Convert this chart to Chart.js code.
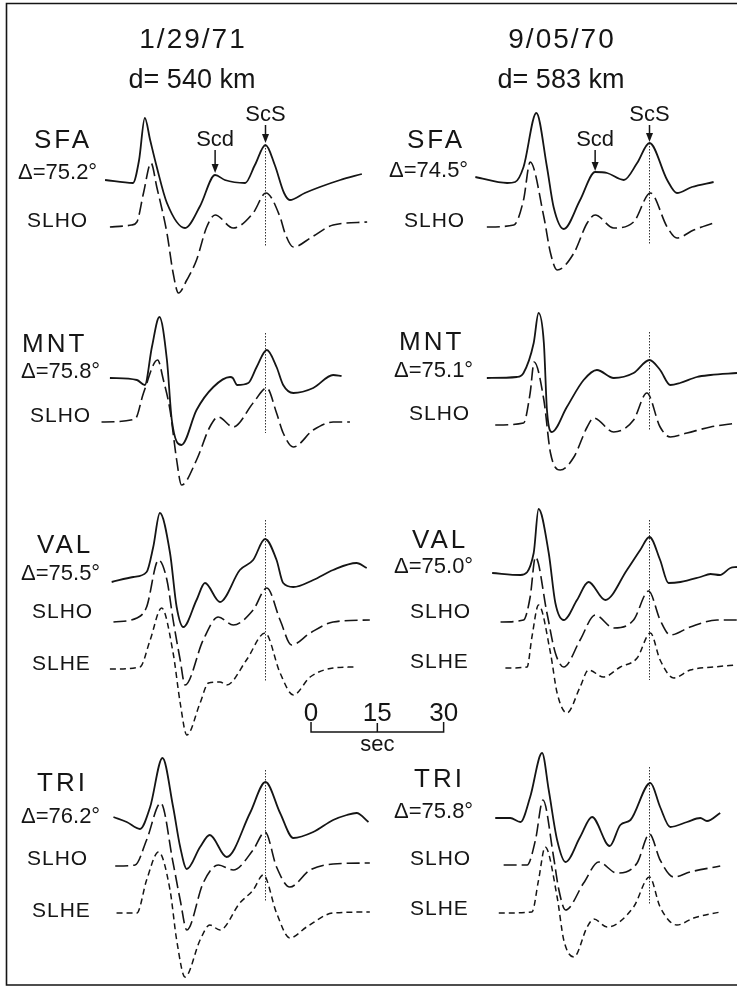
<!DOCTYPE html>
<html>
<head>
<meta charset="utf-8">
<script src="https://cdn.jsdelivr.net/npm/chart.js@4/dist/chart.umd.min.js"></script>
<style>
  html, body { margin: 0; padding: 0; background: #fff; }
  canvas { display: block; }
</style>
</head>
<body>
<canvas id="seis" width="737" height="988"></canvas>
<script>
// time in seconds relative to ScS, amplitude in figure units (up = positive)

// 1/29/71 event
const sfaL = [[-36.3,0],[-30.0,-3],[-28.6,20],[-27.3,62],[-26.1,40],[-24.6,13],[-22.3,-23],[-18.2,-48],[-14.8,-26],[-11.4,5],[-9.2,0],[-4.6,-3],[-2.4,15],[0,35],[2.1,15],[4.2,-13],[5.5,-20],[8.9,-13],[12.3,-7],[16.9,0],[21.8,6]];
const sfaLslho = [[-35.2,-1],[-30.3,1],[-29.1,4],[-27.6,33],[-25.9,63],[-24.6,39],[-22.3,-7],[-20.9,-47],[-19.7,-67],[-17.8,-54],[-15.6,-34],[-13.3,-1],[-11.4,11],[-7.3,-2],[-2.8,13],[0.1,33],[3.3,9],[4.4,-7],[6.3,-21],[10.5,-11],[15.3,1],[23.0,4]];
const mntL = [[-35.2,1],[-29.1,-1],[-27.3,-6],[-25.7,32],[-24.0,62],[-22.3,19],[-21.2,-41],[-19.0,-66],[-15.6,-31],[-11.8,-8],[-8.0,2],[-7.4,1],[-6.4,-6],[-3.9,-4],[-2.0,12],[0.3,29],[2.5,12],[4.0,-6],[6.3,-14],[10.8,-9],[15.3,4],[17.2,3]];
const mntLslho = [[-37.1,-2],[-29.5,1],[-27.6,27],[-24.4,60],[-23.1,40],[-21.6,10],[-20.1,-40],[-19.0,-65],[-15.6,-40],[-12.6,-7],[-10.7,3],[-7.3,-7],[-2.8,17],[0.3,32],[2.5,7],[4.0,-13],[6.3,-27],[10.8,-10],[15.3,-2],[19.1,-2]];
const valL = [[-34.8,-2],[-29.9,3],[-26.9,8],[-25.4,33],[-23.9,67],[-21.6,27],[-20.1,-27],[-18.6,-47],[-15.6,-20],[-13.7,-3],[-10.3,-22],[-5.8,10],[-2.8,20],[-0.1,41],[2.5,20],[4.0,-3],[6.3,-7],[10.8,0],[15.3,10],[20.6,17],[22.9,12]];
const valLslho = [[-34.4,-2],[-29.1,2],[-26.9,13],[-24.2,60],[-22.3,40],[-20.9,0],[-19.3,-40],[-18.2,-65],[-14.1,-20],[-10.7,3],[-7.3,-5],[-2.8,10],[0.3,32],[3.3,0],[5.9,-25],[10.1,-13],[15.3,-2],[23.6,0]];
const valLslhe = [[-35.2,-1],[-28.4,1],[-26.1,28],[-23.5,60],[-20.9,15],[-19.3,-35],[-17.8,-67],[-14.8,-35],[-12.9,-15],[-10.3,-14],[-8.8,-17],[-4.3,8],[-0.1,35],[3.3,-5],[6.3,-27],[10.1,-9],[15.3,0],[19.9,1]];
const triL = [[-34.4,0],[-31.4,-5],[-28.4,-12],[-26.1,10],[-23.3,59],[-20.9,10],[-19.3,-30],[-17.8,-52],[-14.8,-30],[-12.6,-18],[-8.8,-40],[-3.5,4],[0.0,35],[3.3,4],[6.3,-21],[10.8,-15],[15.3,-3],[18.4,2],[20.6,4],[23.3,-5]];
const triLslho = [[-34.0,-1],[-29.5,0],[-26.9,25],[-23.7,62],[-20.9,2],[-19.3,-35],[-17.8,-65],[-14.1,-18],[-10.7,0],[-7.3,-5],[-2.8,15],[-0.1,33],[2.5,-2],[5.5,-22],[10.1,-5],[15.3,1],[23.6,2]];
const triLslhe = [[-33.7,0],[-29.1,0],[-26.9,33],[-24.2,61],[-21.6,23],[-20.1,-27],[-18.2,-64],[-14.8,-27],[-12.6,-12],[-10.3,-17],[-5.8,10],[-2.8,23],[-0.5,38],[2.5,0],[5.5,-25],[9.3,-14],[15.3,0],[23.6,1]];

// 9/05/70 event
const sfaR = [[-39.4,1],[-32.2,-5],[-30.4,-4],[-28.5,11],[-25.6,65],[-23.2,11],[-21.7,-29],[-19.4,-51],[-15.7,-22],[-12.3,6],[-9.6,5],[-5.8,-2],[-2.8,15],[0,35],[4.0,-2],[6.2,-15],[9.6,-9],[14.5,-4]];
const sfaRslho = [[-36.8,-1],[-30.7,1],[-28.5,26],[-27.0,64],[-23.9,9],[-22.4,-27],[-20.9,-44],[-17.1,-27],[-14.1,3],[-12.3,11],[-8.1,-2],[-3.6,4],[0.2,33],[4.0,-1],[6.2,-12],[10.0,-4],[14.5,3]];
const mntR = [[-36.8,-1],[-30.0,0],[-28.5,4],[-26.2,34],[-25.1,64],[-23.9,34],[-23.2,-33],[-22.1,-55],[-18.7,-30],[-14.9,-3],[-11.9,7],[-8.1,-1],[-3.6,4],[0.0,17],[2.4,7],[4.7,-8],[6.9,-6],[10.7,0],[13.8,2],[19.8,4]];
const mntRslho = [[-34.9,-1],[-28.5,1],[-27.0,31],[-26.1,62],[-23.9,24],[-22.4,-29],[-20.2,-46],[-17.1,-33],[-14.1,-3],[-12.6,6],[-8.1,-8],[-3.6,4],[-0.6,31],[2.4,-3],[4.7,-13],[8.5,-9],[13.8,-3],[19.8,1]];
const valR = [[-35.6,1],[-29.2,-1],[-26.2,21],[-25.1,65],[-22.8,21],[-21.3,-29],[-19.4,-46],[-16.4,-26],[-13.8,-8],[-10.0,-26],[-5.1,4],[-2.1,24],[0.0,37],[2.4,14],[4.3,-9],[7.0,-8],[11.5,-3],[13.8,0],[15.9,-1],[18.3,6],[19.8,7]];
const valRslho = [[-33.7,-2],[-28.5,0],[-27.0,23],[-25.8,63],[-23.2,7],[-21.3,-33],[-19.4,-47],[-15.7,-20],[-12.3,5],[-8.1,-8],[-3.6,0],[-0.2,29],[2.4,0],[4.7,-15],[9.2,-7],[15.3,0],[19.8,0]];
const valRslhe = [[-32.6,-1],[-27.7,0],[-26.6,30],[-25.1,62],[-22.4,14],[-20.9,-26],[-18.7,-46],[-15.7,-20],[-13.8,-3],[-10.4,-10],[-6.6,0],[-2.8,9],[0.2,34],[2.4,7],[5.5,-11],[9.2,-3],[14.5,0],[19.8,2]];
const triR = [[-34.9,0],[-31.5,0],[-29.2,-4],[-27.0,21],[-24.3,65],[-22.8,28],[-20.9,-22],[-19.0,-44],[-15.7,-19],[-13.0,1],[-9.0,-28],[-6.6,-7],[-4.3,-2],[0.2,35],[2.4,11],[4.7,-9],[8.5,-4],[11.5,0],[13.0,-3],[16.0,5]];
const triRslho = [[-33.0,0],[-27.7,0],[-25.8,25],[-24.1,65],[-21.7,8],[-20.5,-25],[-19.0,-45],[-14.9,-18],[-11.5,3],[-7.4,-8],[-2.8,2],[0.0,31],[2.4,5],[5.5,-12],[9.2,-7],[16.0,-1]];
const triRslhe = [[-34.1,0],[-26.6,1],[-25.1,33],[-23.6,66],[-20.9,16],[-19.4,-27],[-17.1,-44],[-14.1,-14],[-12.6,-6],[-9.6,-14],[-3.6,6],[0.0,36],[2.4,6],[6.2,-12],[10.0,-5],[16.0,1]];

// phase times (s, relative to ScS)
const scdTimeL = -11.4;
const scdTimeR = -12.3;
const scaleTicks = [0, 15, 30];

const events = ["1/29/71", "9/05/70"];
const depths = ["d= 540 km", "d= 583 km"];
const stationsL = ["SFA", "MNT", "VAL", "TRI"];
const stationsR = ["SFA", "MNT", "VAL", "TRI"];
const distL = ["\u0394=75.2\u00b0", "\u0394=75.8\u00b0", "\u0394=75.5\u00b0", "\u0394=76.2\u00b0"];
const distR = ["\u0394=74.5\u00b0", "\u0394=75.1\u00b0", "\u0394=75.0\u00b0", "\u0394=75.8\u00b0"];

// ---- layout (pixels) ----
const W = 737, H = 988;
const PX_PER_SEC = 4.42;
const SCS_X = { xL: 265.5, xR: 649.5 };
const INK = "#151515";
const FONT = '"Liberation Sans", Arial, sans-serif';

const STYLE = {
  solid: { width: 1.8, dash: [] },
  slho:  { width: 1.6, dash: [13, 5] },
  slhe:  { width: 1.5, dash: [6, 4] }
};

// [data, baseline px, axis, style]
const TRACES = [
  [sfaL, 180, "xL", "solid"], [sfaLslho, 226, "xL", "slho"],
  [mntL, 379, "xL", "solid"], [mntLslho, 420, "xL", "slho"],
  [valL, 580, "xL", "solid"], [valLslho, 620, "xL", "slho"], [valLslhe, 668, "xL", "slhe"],
  [triL, 817, "xL", "solid"], [triLslho, 865, "xL", "slho"], [triLslhe, 913, "xL", "slhe"],
  [sfaR, 178, "xR", "solid"], [sfaRslho, 226, "xR", "slho"],
  [mntR, 377, "xR", "solid"], [mntRslho, 424, "xR", "slho"],
  [valR, 574, "xR", "solid"], [valRslho, 620, "xR", "slho"], [valRslhe, 667, "xR", "slhe"],
  [triR, 818, "xR", "solid"], [triRslho, 865, "xR", "slho"], [triRslhe, 913, "xR", "slhe"]
];

// ScS dotted markers: [axis, top px, bottom px]
const MARKERS = [
  ["xL", 145, 247], ["xL", 333, 433], ["xL", 520, 682], ["xL", 770, 902],
  ["xR", 143, 245], ["xR", 332, 430], ["xR", 520, 680], ["xR", 767, 905]
];

const SCALE_ORIGIN = 10.3; // seconds on xL where the bar starts
const SCALE_Y = 732, SCALE_TICK_TOP = 722;

function axisRange(axis) {
  return { min: -SCS_X[axis] / PX_PER_SEC, max: (W - SCS_X[axis]) / PX_PER_SEC };
}

const datasets = [];
TRACES.forEach(([pts, base, axis, st]) => {
  datasets.push({
    data: pts.map(([t, a]) => ({ x: t, y: -base + a })),
    xAxisID: axis, yAxisID: "y",
    showLine: true, fill: false,
    borderColor: INK, borderWidth: STYLE[st].width, borderDash: STYLE[st].dash,
    cubicInterpolationMode: "monotone",
    pointRadius: 0
  });
});
MARKERS.forEach(([axis, top, bot]) => {
  datasets.push({
    data: [{ x: 0, y: -top }, { x: 0, y: -bot }],
    xAxisID: axis, yAxisID: "y",
    showLine: true, borderColor: "#333", borderWidth: 1, borderDash: [1.5, 1.5],
    pointRadius: 0
  });
});
// time scale bar
const last = scaleTicks[scaleTicks.length - 1];
datasets.push({
  data: [
    { x: SCALE_ORIGIN, y: -SCALE_TICK_TOP }, { x: SCALE_ORIGIN, y: -SCALE_Y },
    { x: SCALE_ORIGIN + last, y: -SCALE_Y }, { x: SCALE_ORIGIN + last, y: -SCALE_TICK_TOP }
  ],
  xAxisID: "xL", yAxisID: "y", showLine: true, borderColor: INK, borderWidth: 1.5, pointRadius: 0
});
scaleTicks.slice(1, -1).forEach(s => {
  datasets.push({
    data: [{ x: SCALE_ORIGIN + s, y: -SCALE_Y }, { x: SCALE_ORIGIN + s, y: -SCALE_TICK_TOP - 1 }],
    xAxisID: "xL", yAxisID: "y", showLine: true, borderColor: INK, borderWidth: 1.5, pointRadius: 0
  });
});

// text: [text, x, baseline y, size, align, letterSpacing]
const LABELS = [
  [events[0], 192, 48, 28, "center", 2], [depths[0], 192, 88, 27, "center", 0],
  [events[1], 561, 48, 28, "center", 2], [depths[1], 561, 88, 27, "center", 0],

  [stationsL[0], 34, 148, 26, "left", 3], [distL[0], 18, 179, 22, "left", 0], ["SLHO", 27, 227, 21, "left", 1],
  [stationsL[1], 22, 352, 26, "left", 3], [distL[1], 21, 378, 22, "left", 0], ["SLHO", 30, 422, 21, "left", 1],
  [stationsL[2], 37, 553, 26, "left", 3], [distL[2], 21, 580, 22, "left", 0], ["SLHO", 32, 618, 21, "left", 1], ["SLHE", 32, 670, 21, "left", 1],
  [stationsL[3], 37, 791, 26, "left", 3], [distL[3], 21, 823, 22, "left", 0], ["SLHO", 27, 865, 21, "left", 1], ["SLHE", 32, 917, 21, "left", 1],

  [stationsR[0], 407, 148, 26, "left", 3], [distR[0], 389, 177, 22, "left", 0], ["SLHO", 404, 227, 21, "left", 1],
  [stationsR[1], 399, 350, 26, "left", 3], [distR[1], 394, 377, 22, "left", 0], ["SLHO", 409, 420, 21, "left", 1],
  [stationsR[2], 412, 548, 26, "left", 3], [distR[2], 394, 573, 22, "left", 0], ["SLHO", 410, 618, 21, "left", 1], ["SLHE", 410, 668, 21, "left", 1],
  [stationsR[3], 414, 787, 26, "left", 3], [distR[3], 394, 818, 22, "left", 0], ["SLHO", 410, 865, 21, "left", 1], ["SLHE", 410, 915, 21, "left", 1]
];

// phase arrows: [axis, time, label, label baseline, arrow top, arrow tip]
const ARROWS = [
  ["xL", scdTimeL, "Scd", 146, 150, 173], ["xL", 0, "ScS", 121, 125, 143],
  ["xR", scdTimeR, "Scd", 146, 150, 171], ["xR", 0, "ScS", 121, 125, 142]
];

const figurePlugin = {
  id: "figure",
  afterDatasetsDraw(chart) {
    const ctx = chart.ctx;
    ctx.save();
    ctx.fillStyle = INK;
    ctx.strokeStyle = INK;
    ctx.textBaseline = "alphabetic";

    LABELS.forEach(([txt, x, y, size, align, sp]) => {
      ctx.font = size + "px " + FONT;
      ctx.letterSpacing = sp + "px";
      ctx.textAlign = align;
      ctx.fillText(txt, x + (align === "center" ? sp / 2 : 0), y);
    });
    ctx.letterSpacing = "0px";

    ARROWS.forEach(([axis, t, txt, ly, top, tip]) => {
      const x = chart.scales[axis].getPixelForValue(t);
      ctx.font = "22px " + FONT;
      ctx.textAlign = "center";
      ctx.fillText(txt, x, ly);
      ctx.lineWidth = 1.5;
      ctx.beginPath();
      ctx.moveTo(x, top);
      ctx.lineTo(x, tip - 5);
      ctx.stroke();
      ctx.beginPath();
      ctx.moveTo(x - 3.5, tip - 9);
      ctx.lineTo(x + 3.5, tip - 9);
      ctx.lineTo(x, tip);
      ctx.closePath();
      ctx.fill();
    });

    // scale bar labels
    const xs = chart.scales.xL;
    ctx.font = "26px " + FONT;
    ctx.textAlign = "center";
    scaleTicks.forEach(s => ctx.fillText(String(s), xs.getPixelForValue(SCALE_ORIGIN + s), 721));
    ctx.font = "22px " + FONT;
    ctx.fillText("sec", xs.getPixelForValue(SCALE_ORIGIN + 15), 751);

    // frame
    ctx.lineWidth = 1.6;
    ctx.beginPath();
    ctx.moveTo(W, 3.5);
    ctx.lineTo(6.5, 3.5);
    ctx.lineTo(6.5, 985);
    ctx.lineTo(W, 985);
    ctx.stroke();
    ctx.restore();
  }
};

const scales = { y: { type: "linear", display: false, min: -H, max: 0 } };
["xL", "xR"].forEach(id => {
  const r = axisRange(id);
  scales[id] = { type: "linear", axis: "x", position: "bottom", display: false, min: r.min, max: r.max };
});

new Chart(document.getElementById("seis").getContext("2d"), {
  type: "scatter",
  data: { datasets },
  options: {
    responsive: false,
    animation: false,
    layout: { padding: 0 },
    plugins: { legend: { display: false }, tooltip: { enabled: false } },
    scales
  },
  plugins: [figurePlugin]
});
</script>
</body>
</html>
